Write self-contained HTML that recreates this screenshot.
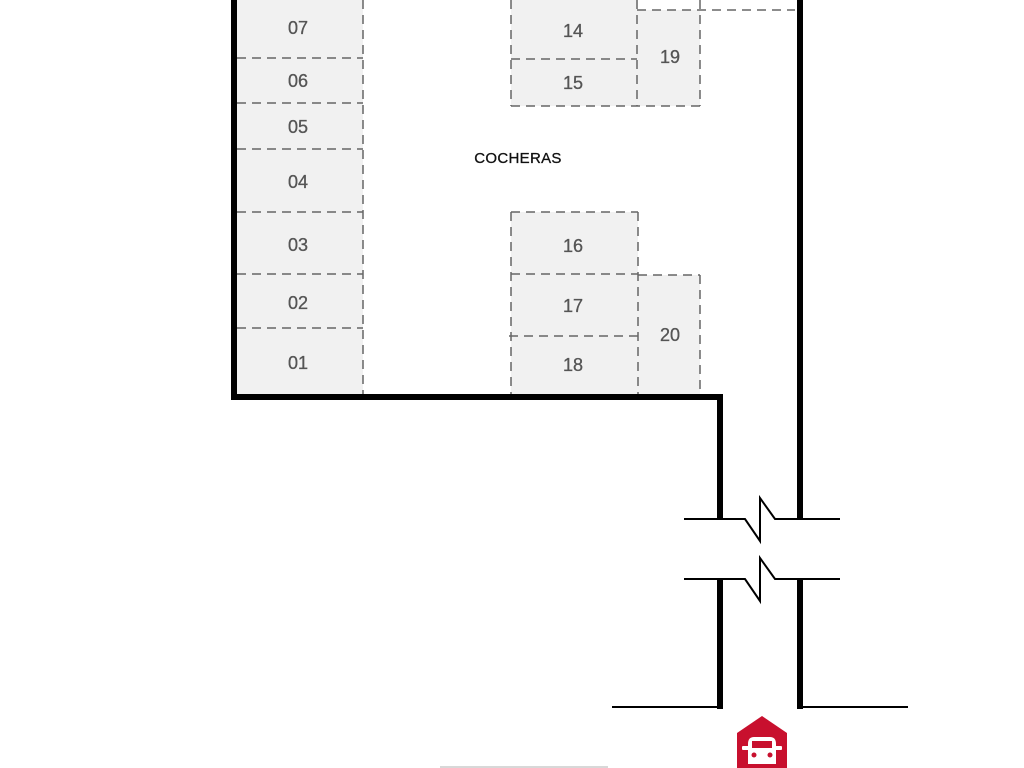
<!DOCTYPE html>
<html><head><meta charset="utf-8"><style>
html,body{margin:0;padding:0;background:#fff;width:1024px;height:768px;overflow:hidden}
svg text{font-family:"Liberation Sans",sans-serif}
</style></head><body>
<svg width="1024" height="768" viewBox="0 0 1024 768" xmlns="http://www.w3.org/2000/svg">
<g fill="#f1f1f1">
<rect x="237" y="0" width="126" height="395"/>
<rect x="511" y="0" width="127" height="106"/>
<rect x="638" y="10" width="62" height="96"/>
<rect x="511" y="212" width="127" height="183"/>
<rect x="638" y="275" width="62" height="120"/>
</g>
<g stroke="#666" stroke-width="1.5" stroke-dasharray="9,6" fill="none">
<line x1="363" y1="0" x2="363" y2="395"/>
<line x1="237" y1="58" x2="363" y2="58"/>
<line x1="237" y1="103" x2="363" y2="103"/>
<line x1="237" y1="149" x2="363" y2="149"/>
<line x1="237" y1="212" x2="363" y2="212"/>
<line x1="237" y1="274" x2="363" y2="274"/>
<line x1="237" y1="328" x2="363" y2="328"/>
<line x1="511" y1="0" x2="511" y2="106"/>
<line x1="511" y1="106" x2="700" y2="106"/>
<line x1="511" y1="59" x2="637" y2="59"/>
<line x1="637" y1="0" x2="637" y2="106"/>
<line x1="637" y1="10" x2="795" y2="10"/>
<line x1="700" y1="0" x2="700" y2="106"/>
<line x1="511" y1="212" x2="638" y2="212"/>
<line x1="511" y1="212" x2="511" y2="395"/>
<line x1="638" y1="212" x2="638" y2="395"/>
<line x1="511" y1="274" x2="638" y2="274"/>
<line x1="509" y1="336" x2="638" y2="336"/>
<line x1="638" y1="275" x2="700" y2="275"/>
<line x1="700" y1="275" x2="700" y2="395"/>
</g>
<g font-size="18" fill="#555" stroke="#555" stroke-width="0.3" text-anchor="middle">
<text x="298" y="34">07</text>
<text x="298" y="87">06</text>
<text x="298" y="133">05</text>
<text x="298" y="188">04</text>
<text x="298" y="251">03</text>
<text x="298" y="309">02</text>
<text x="298" y="369">01</text>
<text x="573" y="37">14</text>
<text x="573" y="89">15</text>
<text x="670" y="63">19</text>
<text x="573" y="252">16</text>
<text x="573" y="312">17</text>
<text x="573" y="371">18</text>
<text x="670" y="341">20</text>
</g>
<text x="518" y="163" font-size="15" fill="#111" stroke="#111" stroke-width="0.3" text-anchor="middle" letter-spacing="0.3">COCHERAS</text>
<g stroke="#000" fill="none" stroke-width="6">
<polyline points="234,0 234,397 720,397 720,518"/>
<line x1="800" y1="0" x2="800" y2="518"/>
<line x1="720" y1="578" x2="720" y2="709"/>
<line x1="800" y1="578" x2="800" y2="709"/>
</g>
<g stroke="#000" fill="none" stroke-width="2">
<polyline points="684,519 745,519 760,541 760,498 775,519 840,519"/>
<polyline points="684,579 745,579 760,601 760,558 775,579 840,579"/>
<line x1="612" y1="707" x2="720" y2="707"/>
<line x1="800" y1="707" x2="908" y2="707"/>
</g>
<polygon points="737,733 762,716 787,733 787,768 737,768" fill="#c8102e"/>
<g fill="#fff">
<path d="M748,744 q0,-7 6,-7 h16 q6,0 6,7 v20 h-28 z"/>
<rect x="742" y="746" width="40" height="4" rx="1"/>
</g>
<rect x="752" y="741" width="20" height="7" fill="#c8102e"/>
<circle cx="754" cy="755" r="2.5" fill="#c8102e"/>
<circle cx="770" cy="755" r="2.5" fill="#c8102e"/>
<line x1="440" y1="767" x2="608" y2="767" stroke="#ccc" stroke-width="1.5"/>
</svg>
</body></html>
